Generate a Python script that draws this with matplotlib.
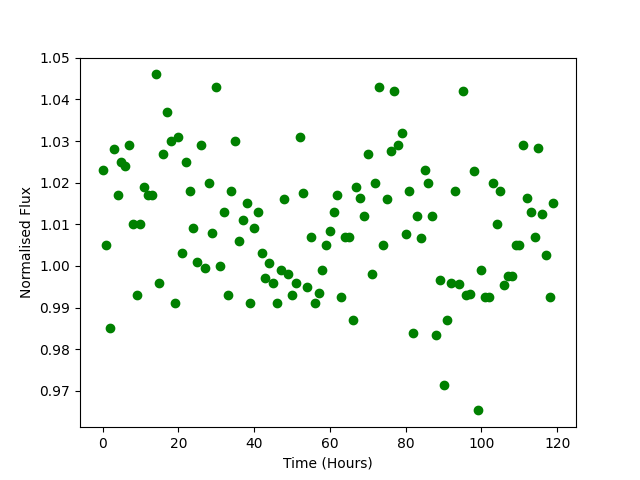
import numpy as np
import matplotlib
matplotlib.use('Agg')
import matplotlib.pyplot as plt

# hourly samples, 0 to 119 hours
hours = np.arange(120)

# normalised flux
flux = [1.023, 1.005, 0.985, 1.028, 1.017, 1.025, 1.024, 1.029, 1.010, 0.993,
        1.010, 1.019, 1.017, 1.017, 1.046, 0.996, 1.027, 1.037, 1.030, 0.991,
        1.031, 1.003, 1.025, 1.018, 1.009, 1.001, 1.029, 0.9995, 1.020, 1.008,
        1.043, 1.000, 1.013, 0.993, 1.018, 1.030, 1.006, 1.011, 1.015, 0.991,
        1.009, 1.013, 1.003, 0.997, 1.0006, 0.996, 0.991, 0.999, 1.016, 0.998,
        0.993, 0.996, 1.031, 1.0176, 0.995, 1.007, 0.991, 0.9935, 0.999, 1.005,
        1.0085, 1.013, 1.017, 0.9925, 1.007, 1.007, 0.987, 1.019, 1.0164, 1.012,
        1.027, 0.998, 1.020, 1.043, 1.005, 1.016, 1.0276, 1.042, 1.029, 1.032,
        1.0076, 1.018, 0.984, 1.012, 1.0066, 1.023, 1.020, 1.012, 0.9835, 0.9965,
        0.9715, 0.987, 0.996, 1.018, 0.9956, 1.042, 0.993, 0.9933, 1.0227, 0.9653,
        0.999, 0.9925, 0.9925, 1.020, 1.010, 1.018, 0.9955, 0.9975, 0.9975, 1.005,
        1.005, 1.029, 1.0164, 1.013, 1.007, 1.0283, 1.0125, 1.0027, 0.9925, 1.015]

plt.figure(figsize=(6.4, 4.8), dpi=100)
plt.plot(hours, flux, 'go')
plt.xlabel('Time (Hours)')
plt.ylabel('Normalised Flux')
plt.savefig('out.png')
